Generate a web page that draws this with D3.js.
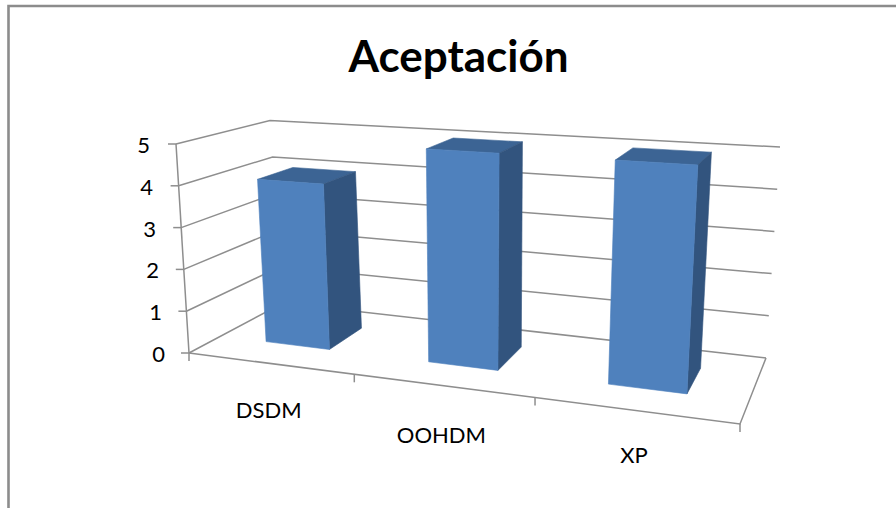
<!DOCTYPE html>
<html>
<head>
<meta charset="utf-8">
<script src="https://cdn.jsdelivr.net/npm/d3@7/dist/d3.min.js"></script>
<style>
  html, body { margin: 0; padding: 0; background: #fff; }
  svg { display: block; }
  text { font-family: Lato, "Open Sans", sans-serif; fill: #000; }
</style>
</head>
<body>
<div id="chart"></div>
<script>
// Chart content
const chartTitle = "Aceptación";
const categories = ["DSDM", "OOHDM", "XP"];
const values = [4, 5, 5];
const valueTicks = [0, 1, 2, 3, 4, 5];

const width = 896, height = 508;

// Corners of the 3D plot box on screen: floor and ceiling, front and back
const box = {
  floor: { fl: [189, 353], fr: [740, 424], bl: [283, 303], br: [766, 358] },
  top:   { fl: [176, 144], fr: [754, 180], bl: [270, 120.5], br: [780, 147] }
};

// Scales into the box's unit cube
const valueScale = d3.scaleLinear().domain([0, 5]).range([0, 1]);
const slotScale = d3.scaleLinear().domain([0, 1, 2, 3]).range([0, 0.30, 0.628, 1]);
const bandScale = d3.scaleBand().domain(categories).range([0, 3])
  .paddingInner(0.6).paddingOuter(0.3).align(0.475);
const depthFront = 0.34, depthBack = 0.74;

// Category labels sit staggered under the floor edge
const labelDrop = d3.scaleOrdinal().domain(categories).range([54.5, 57, 53]);

const lerp = (a, b, t) => [a[0] + (b[0] - a[0]) * t, a[1] + (b[1] - a[1]) * t];

// Unit-cube coordinate to a screen point
function project(u, v, z) {
  const corner = p => lerp(lerp(p.fl, p.fr, u), lerp(p.bl, p.br, u), z);
  return lerp(corner(box.floor), corner(box.top), v);
}

const svg = d3.select("#chart").append("svg")
  .attr("width", width).attr("height", height);

// Frame: only the upper and left edges are visible
const frame = d3.line();
svg.append("path")
  .attr("d", frame([[8.5, height], [8.5, 6], [width, 6]]))
  .attr("fill", "none").attr("stroke", "#8c8c8c").attr("stroke-width", 2.6);

svg.append("text")
  .attr("x", 458.5).attr("y", 72)
  .attr("text-anchor", "middle")
  .attr("font-size", 44).attr("font-weight", 700)
  .text(chartTitle);

const grid = svg.append("g").attr("fill", "none")
  .attr("stroke", "#8e8e8e").attr("stroke-width", 1.5);
const poly = d3.line();

// Walls: one bent gridline per value
valueTicks.forEach(t => {
  const v = valueScale(t);
  grid.append("path").attr("d", poly([project(0, v, 0), project(0, v, 1), project(1, v, 1)]));
  const p = project(0, v, 0);
  grid.append("path").attr("d", poly([[p[0] - 8, p[1]], p]));
});

// Value axis, floor edges and category ticks
grid.append("path").attr("d", poly([project(0, 1, 0), project(0, 0, 0)]));
grid.append("path").attr("d", poly([project(0, 0, 0), project(1, 0, 0), project(1, 0, 1)]));
d3.range(0, categories.length + 1).forEach(i => {
  const p = project(slotScale(i), 0, 0);
  grid.append("path").attr("d", poly([p, [p[0], p[1] + 8]]));
});

// Value labels
svg.append("g").selectAll("text").data(valueTicks).join("text")
  .attr("x", d => project(0, valueScale(d), 0)[0] - 24 - d * 0.4)
  .attr("y", d => project(0, valueScale(d), 0)[1] + 9)
  .attr("text-anchor", "end")
  .attr("font-size", 22)
  .text(d => d);

// Bars: top, side and front faces
const bars = svg.append("g");
categories.forEach((c, i) => {
  const u0 = slotScale(bandScale(c));
  const u1 = slotScale(bandScale(c) + bandScale.bandwidth());
  const v = valueScale(values[i]);
  const face = (pts, color) => bars.append("path")
    .attr("d", poly(pts) + "Z").attr("fill", color)
    .attr("stroke", color).attr("stroke-width", 0.6);
  face([project(u0, v, depthFront), project(u1, v, depthFront), project(u1, v, depthBack), project(u0, v, depthBack)], "#3c6494");
  face([project(u1, 0, depthFront), project(u1, v, depthFront), project(u1, v, depthBack), project(u1, 0, depthBack)], "#32547e");
  face([project(u0, 0, depthFront), project(u1, 0, depthFront), project(u1, v, depthFront), project(u0, v, depthFront)], "#4f81bd");
});

// Category labels below the front floor edge
svg.append("g").selectAll("text").data(categories).join("text")
  .attr("x", c => project(slotScale(bandScale(c) + bandScale.bandwidth() / 2), 0, 0)[0] - 0.5)
  .attr("y", c => project(slotScale(bandScale(c) + bandScale.bandwidth() / 2), 0, 0)[1] + labelDrop(c))
  .attr("text-anchor", "middle")
  .attr("font-size", 22)
  .text(c => c);
</script>
</body>
</html>
